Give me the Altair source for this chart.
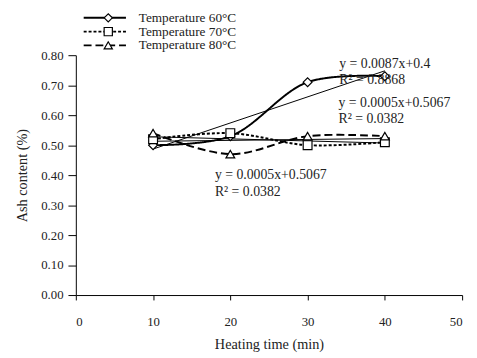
import altair as alt
import pandas as pd

heating_time = [10, 20, 30, 40]
ash_60 = [0.50, 0.53, 0.71, 0.73]
ash_70 = [0.52, 0.54, 0.50, 0.51]
ash_80 = [0.54, 0.47, 0.53, 0.53]
series_names = ["Temperature 60°C", "Temperature 70°C", "Temperature 80°C"]
shapes = ["diamond", "square", "triangle-up"]
dashes = [[1, 0], [3, 2], [8, 4]]

ann_text = ["y = 0.0087x+0.4", "R² = 0.8868", "y = 0.0005x+0.5067", "R² = 0.0382",
            "y = 0.0005x+0.5067", "R² = 0.0382"]
ann_x = [34.1, 34.1, 34.0, 34.0, 18.0, 18.0]
ann_y = [0.77, 0.717, 0.642, 0.588, 0.399, 0.345]

rows = []
for name, vals in zip(series_names, [ash_60, ash_70, ash_80]):
    for t, v in zip(heating_time, vals):
        rows.append({"time": t, "ash": v, "series": name})
df = pd.DataFrame(rows)
ann = pd.DataFrame({"text": ann_text, "x": ann_x, "y": ann_y})

FONT = "Liberation Serif"
xs = alt.Scale(domain=[0, 50], nice=False)
ys = alt.Scale(domain=[0, 0.8], nice=False)

x_axis = alt.Axis(values=[0, 10, 20, 30, 40, 50], title="Heating time (min)", grid=False,
                  tickSize=5, labelPadding=16, titlePadding=9, domainColor="black",
                  tickColor="black", labelOverlap=False)
y_axis = alt.Axis(values=[0, 0.1, 0.2, 0.3, 0.4, 0.5, 0.6, 0.7, 0.8], format=".2f",
                  title="Ash content (%)", grid=False, tickSize=8, labelPadding=5,
                  titlePadding=11, domainColor="black", tickColor="black", labelOverlap=False)

X = alt.X("time:Q", scale=xs, axis=x_axis)
Y = alt.Y("ash:Q", scale=ys, axis=y_axis)

base = alt.Chart(df)

trend = base.transform_regression("time", "ash", groupby=["series"], extent=[10, 40]).mark_line(
    color="black", strokeWidth=1
).encode(x=X, y=Y, detail="series:N")

lines = base.mark_line(color="black", strokeWidth=2, interpolate="catmull-rom").encode(
    x=X, y=Y,
    strokeDash=alt.StrokeDash("series:N", scale=alt.Scale(domain=series_names, range=dashes), legend=None),
)

points = base.mark_point(filled=True, fill="white", stroke="black", strokeWidth=1.2, size=80, opacity=1).encode(
    x=X, y=Y,
    shape=alt.Shape("series:N", scale=alt.Scale(domain=series_names, range=shapes), legend=None),
)

texts = alt.Chart(ann).mark_text(align="left", baseline="middle", font=FONT, fontSize=14, color="#222").encode(
    x=alt.X("x:Q", scale=xs, axis=x_axis),
    y=alt.Y("y:Q", scale=ys, axis=y_axis),
    text="text:N",
)

# manual legend above plot
leg_y = [-38, -24, -10]
legend_layers = []
for i, name in enumerate(series_names):
    legend_layers.append(
        alt.Chart(pd.DataFrame({"k": [0]})).mark_rule(color="black", strokeWidth=2, strokeDash=dashes[i]).encode(
            x=alt.value(8), x2=alt.value(51), y=alt.value(leg_y[i])
        )
    )
    legend_layers.append(
        alt.Chart(pd.DataFrame({"k": [0]})).mark_point(shape=shapes[i], filled=True, fill="white", stroke="black",
                                                       strokeWidth=1.2, size=70, opacity=1).encode(
            x=alt.value(33), y=alt.value(leg_y[i])
        )
    )
    legend_layers.append(
        alt.Chart(pd.DataFrame({"k": [0]})).mark_text(align="left", baseline="middle", font=FONT, fontSize=13.5,
                                                      color="#222", text=name).encode(
            x=alt.value(64), y=alt.value(leg_y[i])
        )
    )

chart = alt.layer(trend, lines, points, texts, *legend_layers).properties(
    width=393, height=244,
    autosize=alt.AutoSizeParams(type="none"),
    padding={"left": 69, "top": 45, "right": 7, "bottom": 60},
).configure_view(stroke=None).configure_axis(
    labelFont=FONT, titleFont=FONT, labelFontSize=13, titleFontSize=14.5,
    labelColor="#222", titleColor="#222", titleFontWeight="normal"
)

chart.save("out.html", embed_options={"renderer": "svg", "actions": False})
